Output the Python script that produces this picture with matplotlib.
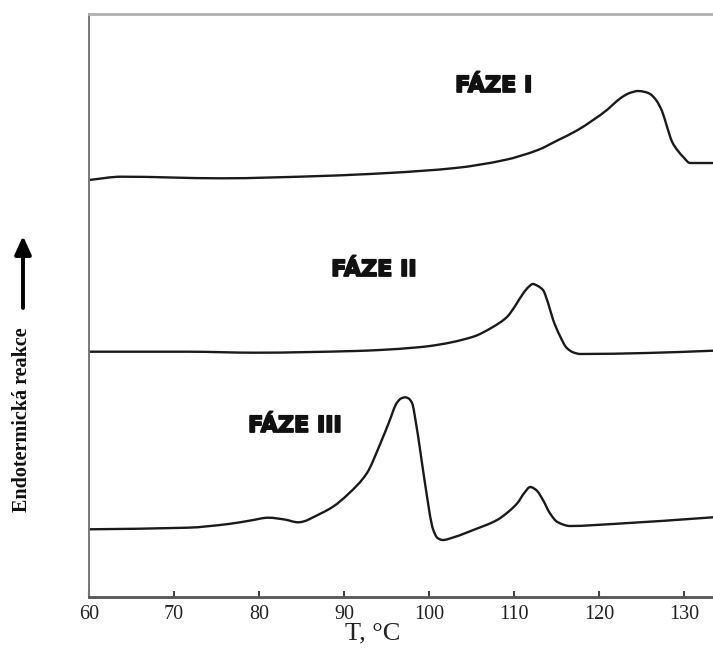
import matplotlib.pyplot as plt
import matplotlib.patheffects as pe
from matplotlib.path import Path
from matplotlib.patches import PathPatch

# DSC curves, y in arbitrary heat-flow units (shifted per phase)
t_faze1 = [60, 63.8, 75.5, 87.3, 95.2, 103.1, 108.9, 112.8, 115.2, 117.5, 119.3, 121.0,
           122.1, 123.0, 123.6, 124.6, 125.4, 126.0, 126.7, 127.4, 128.0, 128.6, 129.2,
           129.9, 130.7, 131.5, 133.4]
q_faze1 = [417, 420.3, 418.7, 421, 424, 429, 437, 447, 457, 467, 477, 487.5,
           496, 501.5, 504, 506, 505, 503, 497, 486, 470, 455, 447,
           440, 434, 434, 434]

t_faze2 = [60, 71.6, 79.5, 91.3, 94.2, 98.7, 100.1, 105.2, 107.5, 109.2, 110.2, 111.1,
           111.7, 112.2, 112.8, 113.4, 114.0, 114.6, 115.4, 116.2, 117.0, 117.8,
           125.6, 133.4]
q_faze2 = [245.3, 245.3, 244.3, 246, 247, 249.7, 251, 260.3, 270, 280.3, 292, 304,
           310, 313, 311, 307, 294, 277, 261, 249, 244.5, 243,
           244, 246.3]

t_faze3 = [60, 71.6, 76.4, 79.0, 81.1, 83.0, 84.6, 87.3, 88.7, 90.5, 92.7, 94.2, 95.3,
           96.2, 96.7, 97.2, 97.6, 98.0, 98.5, 98.9, 99.5, 100.5, 101.0, 101.6, 103.0,
           105.2, 108.0, 109.3, 110.4, 111.2, 111.9, 112.6, 113.4, 114.2, 115.1, 116.6,
           121.6, 133.4]
q_faze3 = [67.7, 69.3, 73, 76.5, 79.3, 77.5, 74.7, 83.7, 90.3, 103, 124, 152, 175,
           194, 198.5, 199.7, 198.5, 194, 172, 150, 115, 67, 59, 57, 60,
           67, 77, 85, 94, 104, 110, 107, 97, 84, 75, 71,
           73, 79.7]

x_ticks = [60, 70, 80, 90, 100, 110, 120, 130]


def smooth_path(xs, ys):
    # monotone cubic (PCHIP slopes) through the points, as Bezier segments
    n = len(xs)
    h = [xs[i + 1] - xs[i] for i in range(n - 1)]
    d = [(ys[i + 1] - ys[i]) / h[i] for i in range(n - 1)]
    m = [d[0]] + [0.0] * (n - 2) + [d[-1]]
    for k in range(1, n - 1):
        if d[k - 1] * d[k] > 0:
            w1 = 2 * h[k] + h[k - 1]
            w2 = h[k] + 2 * h[k - 1]
            m[k] = (w1 + w2) / (w1 / d[k - 1] + w2 / d[k])
    verts = [(xs[0], ys[0])]
    codes = [Path.MOVETO]
    for k in range(n - 1):
        verts += [(xs[k] + h[k] / 3, ys[k] + m[k] * h[k] / 3),
                  (xs[k + 1] - h[k] / 3, ys[k + 1] - m[k + 1] * h[k] / 3),
                  (xs[k + 1], ys[k + 1])]
        codes += [Path.CURVE4] * 3
    return Path(verts, codes)


fig = plt.figure(figsize=(7.13, 6.48), dpi=100)
ax = fig.add_axes([0.1248, 0.0787, 0.8752, 0.8997])

for t, q in [(t_faze1, q_faze1), (t_faze2, q_faze2), (t_faze3, q_faze3)]:
    ax.add_patch(PathPatch(smooth_path(t, q), facecolor='none', edgecolor='#1a1a1a',
                           lw=1.7, joinstyle='round', capstyle='round'))

ax.set_xlim(60, 133.4)
ax.set_ylim(0, 583)
ax.set_yticks([])
ax.set_xticks(x_ticks)
ax.tick_params(axis='x', direction='in', length=4, width=1.5, color='#444', pad=6,
               labelsize=14.5, labelcolor='#222')
for lbl in ax.get_xticklabels():
    lbl.set_fontfamily('Liberation Serif')

ax.spines['right'].set_visible(False)
ax.spines['left'].set_color('#777')
ax.spines['left'].set_linewidth(1.4)
ax.spines['top'].set_color('#b0b0b0')
ax.spines['top'].set_linewidth(2)
ax.spines['bottom'].set_color('#555')
ax.spines['bottom'].set_linewidth(2)

ax.set_xlabel('T, °C', fontsize=19, family='Liberation Serif', color='#222')
ax.xaxis.set_label_coords(0.455, -0.063)
ax.xaxis.label.set_va('center')

# phase labels
stroke = [pe.withStroke(linewidth=1.3, foreground='#111')]
for txt, x, y in [('FÁZE I', 107.6, 511), ('FÁZE II', 93.5, 327), ('FÁZE III', 84.2, 171)]:
    ax.text(x, y, txt, ha='center', va='center', fontsize=16, fontweight='bold',
            family='DejaVu Sans', color='#111', path_effects=stroke)

# y label with arrow pointing to endothermic direction
fig.text(22 / 713, 1 - 420 / 648, 'Endotermická reakce', rotation=90, ha='center',
         va='center', fontsize=14.5, fontweight='bold', family='Liberation Serif', color='#111')
ax.annotate('', xy=(23, 648 - 236), xycoords='figure pixels',
            xytext=(23, 648 - 308), textcoords='figure pixels',
            arrowprops=dict(arrowstyle='-|>,head_length=1.1,head_width=0.5', lw=2.8,
                            color='black', shrinkA=0, shrinkB=0))

fig.savefig('out.png', dpi=100)
